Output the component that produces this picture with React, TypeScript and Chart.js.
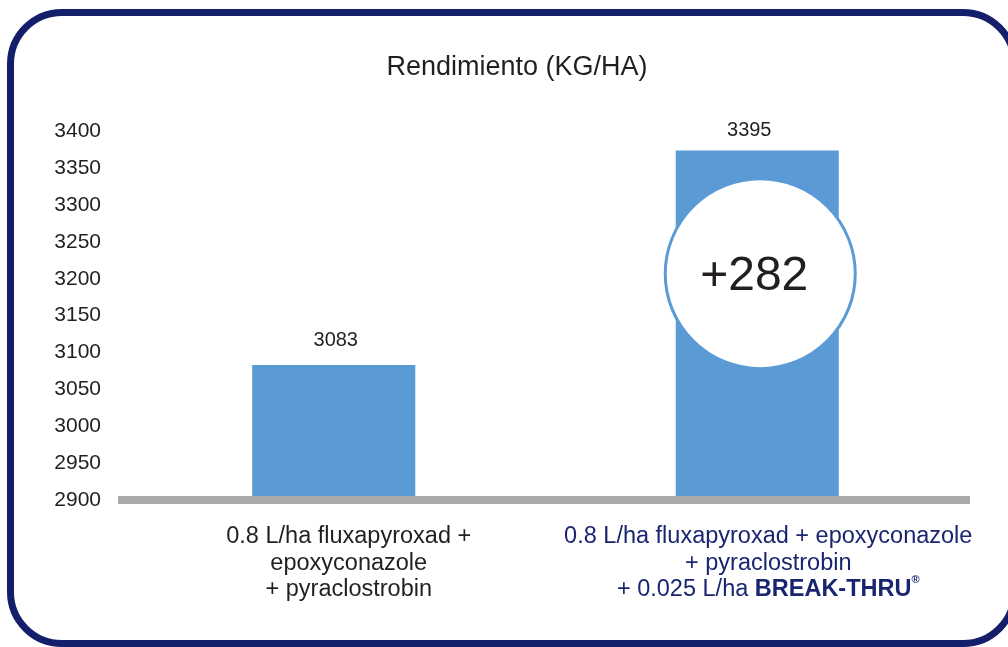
import React, { useEffect, useRef } from "react";
import { Chart, registerables } from "chart.js";

Chart.register(...registerables);

// ---- data ----
const categories = ["Tratamiento estándar", "Tratamiento + BREAK-THRU"];
const barValues = [3083, 3374];
const valueLabels = ["3083", "3395"];
const yMin = 2900;
const yMax = 3400;
const yStep = 50;
const chartTitle = "Rendimiento (KG/HA)";
const xLabelLines = [
  ["0.8 L/ha fluxapyroxad +", "epoxyconazole", "+ pyraclostrobin"],
  ["0.8 L/ha fluxapyroxad + epoxyconazole", "+ pyraclostrobin", "+ 0.025 L/ha BREAK-THRU®"],
];
const brandName = "BREAK-THRU";
const brandMark = "®";
const gainLabel = "+282";
const gainCircleValue = 3207;

// ---- styles ----
const FONT = "'Liberation Sans', Arial, Helvetica, sans-serif";
const TEXT = "#231f20";
const NAVY = "#1a2570";
const BAR = "#5b9bd5";
const BASE = "#a9a9a9";
const labelColors = [TEXT, NAVY];
const labelShift = [15, 11];

const overlayPlugin = {
  id: "overlay",
  afterDatasetsDraw(chart: any) {
    const ctx = chart.ctx;
    const meta = chart.getDatasetMeta(0);
    const ys = chart.scales.y;
    ctx.save();
    // circle annotation on second bar
    const b2 = meta.data[1];
    const cx = b2.x + 3;
    const cy = ys.getPixelForValue(gainCircleValue);
    ctx.beginPath();
    ctx.arc(cx, cy, 95, 0, Math.PI * 2);
    ctx.fillStyle = "#ffffff";
    ctx.fill();
    ctx.lineWidth = 3;
    ctx.strokeStyle = BAR;
    ctx.stroke();
    ctx.fillStyle = TEXT;
    ctx.font = `48px ${FONT}`;
    ctx.textAlign = "center";
    ctx.textBaseline = "middle";
    ctx.fillText(gainLabel, b2.x - 3, cy + 3);
    // value labels
    ctx.font = `20px ${FONT}`;
    meta.data.forEach((bar: any, i: number) => {
      ctx.fillText(valueLabels[i], bar.x - (i === 1 ? 8 : -2), bar.y - (i === 1 ? 20 : 25));
    });
    ctx.restore();
  },
  afterDraw(chart: any) {
    const ctx = chart.ctx;
    const xs = chart.scales.x;
    const bottom = chart.chartArea.bottom;
    ctx.save();
    ctx.textBaseline = "middle";
    ctx.textAlign = "left";
    xLabelLines.forEach((lines, i) => {
      const cx = xs.getPixelForValue(i) + labelShift[i];
      ctx.fillStyle = labelColors[i];
      lines.forEach((line, j) => {
        const y = bottom + 37 + j * 26.5;
        const segs: { t: string; f: string; dy: number }[] = [];
        const k = line.indexOf(brandName);
        if (k >= 0) {
          segs.push({ t: line.slice(0, k), f: `23.5px ${FONT}`, dy: 0 });
          segs.push({ t: brandName, f: `bold 23.5px ${FONT}`, dy: 0 });
          const rest = line.slice(k + brandName.length);
          if (rest.startsWith(brandMark)) {
            segs.push({ t: brandMark, f: `bold 11px ${FONT}`, dy: -10 });
          }
        } else {
          segs.push({ t: line, f: `23.5px ${FONT}`, dy: 0 });
        }
        let total = 0;
        segs.forEach((s) => {
          ctx.font = s.f;
          total += ctx.measureText(s.t).width;
        });
        let x = cx - total / 2;
        segs.forEach((s) => {
          ctx.font = s.f;
          ctx.fillText(s.t, x, y + s.dy);
          x += ctx.measureText(s.t).width;
        });
      });
    });
    ctx.restore();
  },
};

export default function App() {
  const ref = useRef<HTMLCanvasElement | null>(null);
  useEffect(() => {
    document.body.style.margin = "0";
    const canvas = ref.current!;
    const chart = new Chart(canvas, {
      type: "bar",
      data: {
        labels: categories,
        datasets: [
          {
            data: barValues,
            backgroundColor: BAR,
            borderWidth: 0,
            barPercentage: 0.385,
            categoryPercentage: 1,
          },
        ],
      },
      options: {
        animation: false,
        responsive: false,
        devicePixelRatio: 1,
        layout: { padding: { left: 26, right: 0, top: 0, bottom: 0 } },
        plugins: {
          legend: { display: false },
          tooltip: { enabled: false },
          title: {
            display: true,
            text: chartTitle,
            color: TEXT,
            font: { family: FONT, size: 27, weight: "normal" },
            padding: { top: 51, bottom: 48 },
          },
        },
        scales: {
          x: {
            grid: { display: false, drawTicks: false },
            ticks: { display: false },
            border: { display: true, color: BASE, width: 8, z: 1 },
            afterFit: (s: any) => {
              s.height = 147;
            },
          },
          y: {
            min: yMin,
            max: yMax,
            grid: { display: false, drawTicks: false },
            border: { display: false },
            ticks: {
              stepSize: yStep,
              color: TEXT,
              padding: 21,
              font: { family: FONT, size: 21 },
              callback: (v: any) => String(v),
            },
            afterFit: (s: any) => {
              s.width = 96;
            },
          },
          yRight: {
            position: "right",
            display: true,
            grid: { display: false, drawTicks: false },
            border: { display: false },
            ticks: { display: false },
            afterFit: (s: any) => {
              s.width = 39;
            },
          },
        },
      },
      plugins: [overlayPlugin],
    });
    return () => chart.destroy();
  }, []);

  return (
    <div
      style={{
        position: "fixed",
        left: 0,
        top: 0,
        width: 1008,
        height: 647,
        overflow: "hidden",
        background: "#ffffff",
      }}
    >
      <canvas
        ref={ref}
        width={1008}
        height={647}
        style={{ position: "absolute", left: 0, top: 0, width: 1008, height: 647 }}
      />
      <div
        style={{
          position: "absolute",
          left: 7,
          top: 9,
          width: 1011,
          height: 638,
          boxSizing: "border-box",
          border: "7px solid #131f6b",
          borderRadius: 55,
          pointerEvents: "none",
        }}
      />
    </div>
  );
}
